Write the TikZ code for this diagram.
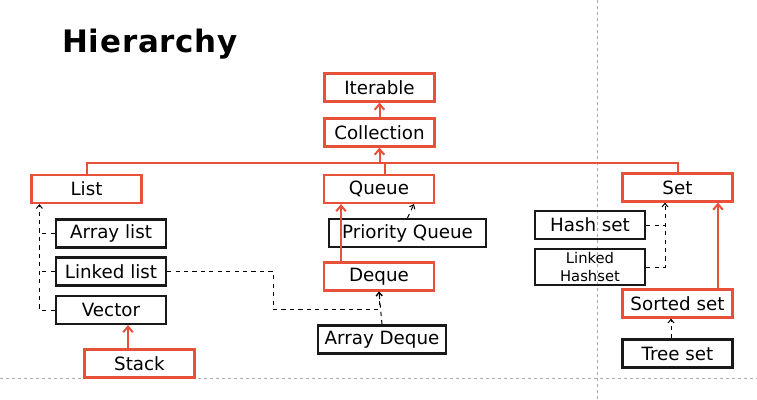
\documentclass[tikz,border=0pt]{standalone}
\usepackage{fontspec}
\setmainfont{DejaVu Sans}
\newfontfamily\titlefont[LetterSpace=2.5]{DejaVu Sans}
\usetikzlibrary{arrows.meta, calc}
\definecolor{hred}{HTML}{E9503A}
\definecolor{guide}{HTML}{AAAAAA}

\begin{document}
\begin{tikzpicture}[
    x=0.25mm, y=-0.25mm,
    every node/.style={font=\fontsize{13}{15.6}\selectfont},
    box/.style={draw, line width=0.55mm, minimum width=27.5mm, minimum height=7mm, inner sep=0pt},
    ifacebox/.style={box, draw=hred},
    classbox/.style={box, draw=black!90},
    link/.style={line width=0.5mm, hred},
    arr/.style={link, -{Straight Barb[length=1.4mm, width=2.4mm]}},
    dashlink/.style={dashed, line width=0.25mm},
    dasharr/.style={dashlink, -{Straight Barb[length=0.9mm, width=1.5mm]}},
    guideline/.style={guide, line width=0.25mm, dash pattern=on 0.75mm off 0.75mm},
  ]
  \useasboundingbox (0,0) rectangle (757,400);
  % --- canvas guides
  \draw[guideline] (597,0) -- (597,400);
  \draw[guideline] (0,378) -- (757,378);
  % --- title
  \node[anchor=base west, inner sep=0pt, font=\titlefont\bfseries\fontsize{22}{26}\selectfont] (title) at (62,52) {Hierarchy};
  % --- top
  \node[ifacebox] (iter) at (379.5,87.5) {Iterable};
  \node[ifacebox] (coll) at (379.5,132.5) {Collection};
  % --- list side
  \node[ifacebox] (list)  at (86.5,189)  {List};
  \node[classbox] (alist) at (111,233.5) {Array list};
  \node[classbox] (llist) at (111,271.5) {Linked list};
  \node[classbox] (vect)  at (111,310)   {Vector};
  \node[ifacebox] (stack) at (139.5,363.5) {Stack};
  % --- queue side
  \node[ifacebox] (queue) at (379,189) {Queue};
  \node[classbox, minimum width=39.25mm] (pq) at (407.5,233) {Priority Queue};
  \node[ifacebox] (deque) at (379,276.5) {Deque};
  \node[classbox, minimum width=32mm] (adeque) at (382,339.5) {Array Deque};
  % --- set side
  \node[ifacebox] (set)  at (677.5,187.5) {Set};
  \node[classbox] (hset) at (590,225) {Hash set};
  \node[classbox, minimum height=9mm, align=center, font=\fontsize{10.5}{13.5}\selectfont] (lhset) at (590,267) {Linked\\Hashset};
  \node[ifacebox] (sset) at (677.5,303.5) {Sorted set};
  \node[classbox] (tset) at (677.5,353.5) {Tree set};
  % --- helper points
  \coordinate (bus)    at (379.5,163);
  \coordinate (qstub)  at ($(queue.north)+(6,0)$);
  \coordinate (lspine) at ($(list.south west)+(9,0)$);
  \coordinate (stk)    at ($(stack.north)+(-11.5,0)$);
  \coordinate (jog)    at (273,309);
  \coordinate (pqtip)  at ($(queue.south)+(35,0)$);
  \coordinate (dq)     at ($(deque.north)+(-38,0)$);
  \coordinate (sspine) at ($(set.south)+(-12.5,0)$);
  \coordinate (ss)     at ($(sset.north)+(40.5,0)$);
  \coordinate (ts)     at ($(tset.north)+(-6.5,0)$);
  % --- red edges
  \draw[arr]  (coll) -- (iter);
  \draw[link] (list.north) |- (bus) -| (set.north);
  \draw[link] (qstub) -- (qstub |- bus);
  \draw[arr]  (bus) -- (coll.south);
  \draw[arr]  (stk) -- (stk |- vect.south);
  \draw[arr]  (dq) -- (dq |- queue.south);
  \draw[arr]  (ss) -- (ss |- set.south);
  % --- dashed edges
  \draw[dasharr]  (vect.west) -| (lspine);
  \draw[dashlink] (alist.west) -- (alist.west -| lspine);
  \draw[dashlink] (llist.west) -- (llist.west -| lspine);
  \draw[dasharr]  (llist.east) -| (jog) -| (deque.south);
  \draw[dasharr]  (adeque.north) -- (deque.south);
  \draw[dasharr]  (pq.north) -- (pqtip);
  \draw[dasharr]  (lhset.east) -| (sspine);
  \draw[dashlink] (hset.east) -- (hset.east -| sspine);
  \draw[dasharr]  (ts) -- (ts |- sset.south);
\end{tikzpicture}
\end{document}
